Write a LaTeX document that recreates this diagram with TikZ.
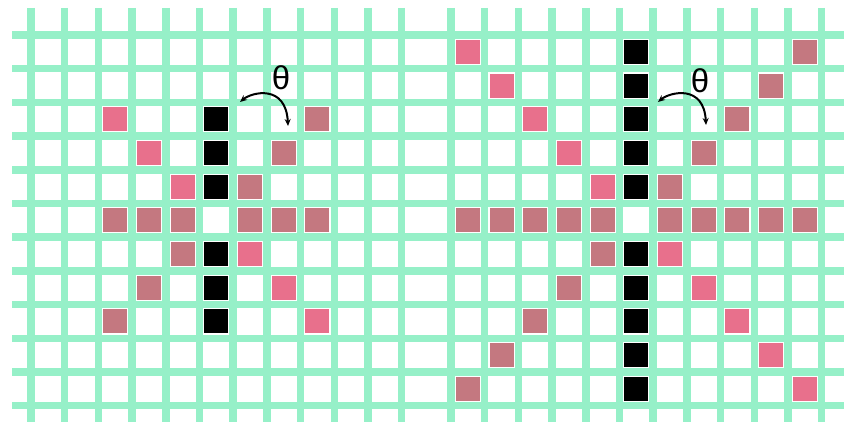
\documentclass[tikz,border=0pt]{standalone}
\usepackage{fontspec}
\setmainfont{Liberation Sans}
\usetikzlibrary{arrows.meta}
\definecolor{gridgreen}{RGB}{150,240,200}
\definecolor{cellpink}{RGB}{232,112,140}
\definecolor{cellmauve}{RGB}{196,120,128}
\begin{document}
\begin{tikzpicture}[x=1pt,y=-1pt,
  gridline/.style={draw=gridgreen,line width=7.5pt},
  cellsq/.style={rectangle,minimum size=24pt,inner sep=0pt,draw=none},
  pinksq/.style={cellsq,fill=cellpink},
  mauvesq/.style={cellsq,fill=cellmauve},
  blacksq/.style={cellsq,fill=black},
  thetaarrow/.style={line width=2pt,{Stealth[length=7pt,width=6pt]}-{Stealth[length=7pt,width=6pt]}},
  thetalabel/.style={inner sep=0pt,font=\fontsize{33}{33}\selectfont}]
\useasboundingbox (0,0) rectangle (844,425);
\fill[white] (0,0) rectangle (844,425);
% grid lines
\foreach \k in {0,...,11} {
  \draw[gridline] (12,35+33.7*\k) -- (844,35+33.7*\k);
}
\foreach \j in {0,...,11} {
  \draw[gridline] (31+33.7*\j,8) -- (31+33.7*\j,422);
  \draw[gridline] (451+33.7*\j,8) -- (451+33.7*\j,422);
}
% left grid cells
\foreach \c/\r in {2/2,3/3,4/4,6/6,7/7,8/8}
  \node[pinksq] (Lp\c-\r) at (47.85+33.7*\c,51.85+33.7*\r) {};
\foreach \c/\r in {8/2,7/3,6/4,4/6,3/7,2/8,2/5,3/5,4/5,6/5,7/5,8/5}
  \node[mauvesq] (Lm\c-\r) at (47.85+33.7*\c,51.85+33.7*\r) {};
\foreach \r in {2,3,4,6,7,8}
  \node[blacksq] (Lb\r) at (47.85+33.7*5,51.85+33.7*\r) {};
% right grid cells
\foreach \i in {0,1,2,3,4,6,7,8,9,10} {
  \node[pinksq] (Rp\i) at (467.85+33.7*\i,51.85+33.7*\i) {};
  \node[mauvesq] (Rm\i) at (467.85+33.7*10-33.7*\i,51.85+33.7*\i) {};
  \node[mauvesq] (Rh\i) at (467.85+33.7*\i,51.85+33.7*5) {};
  \node[blacksq] (Rb\i) at (467.85+33.7*5,51.85+33.7*\i) {};
}
% theta arrows
\coordinate (la1) at (240,102);
\coordinate (la2) at (288,126);
\draw[thetaarrow] (la1) .. controls (252,92) and (286,84) .. (la2);
\node[thetalabel] (lt) at (281,78) {θ};
\coordinate (ra1) at (658,102);
\coordinate (ra2) at (706,125);
\draw[thetaarrow] (ra1) .. controls (670,92) and (704,84) .. (ra2);
\node[thetalabel] (rt) at (700,81) {θ};
\end{tikzpicture}
\end{document}
